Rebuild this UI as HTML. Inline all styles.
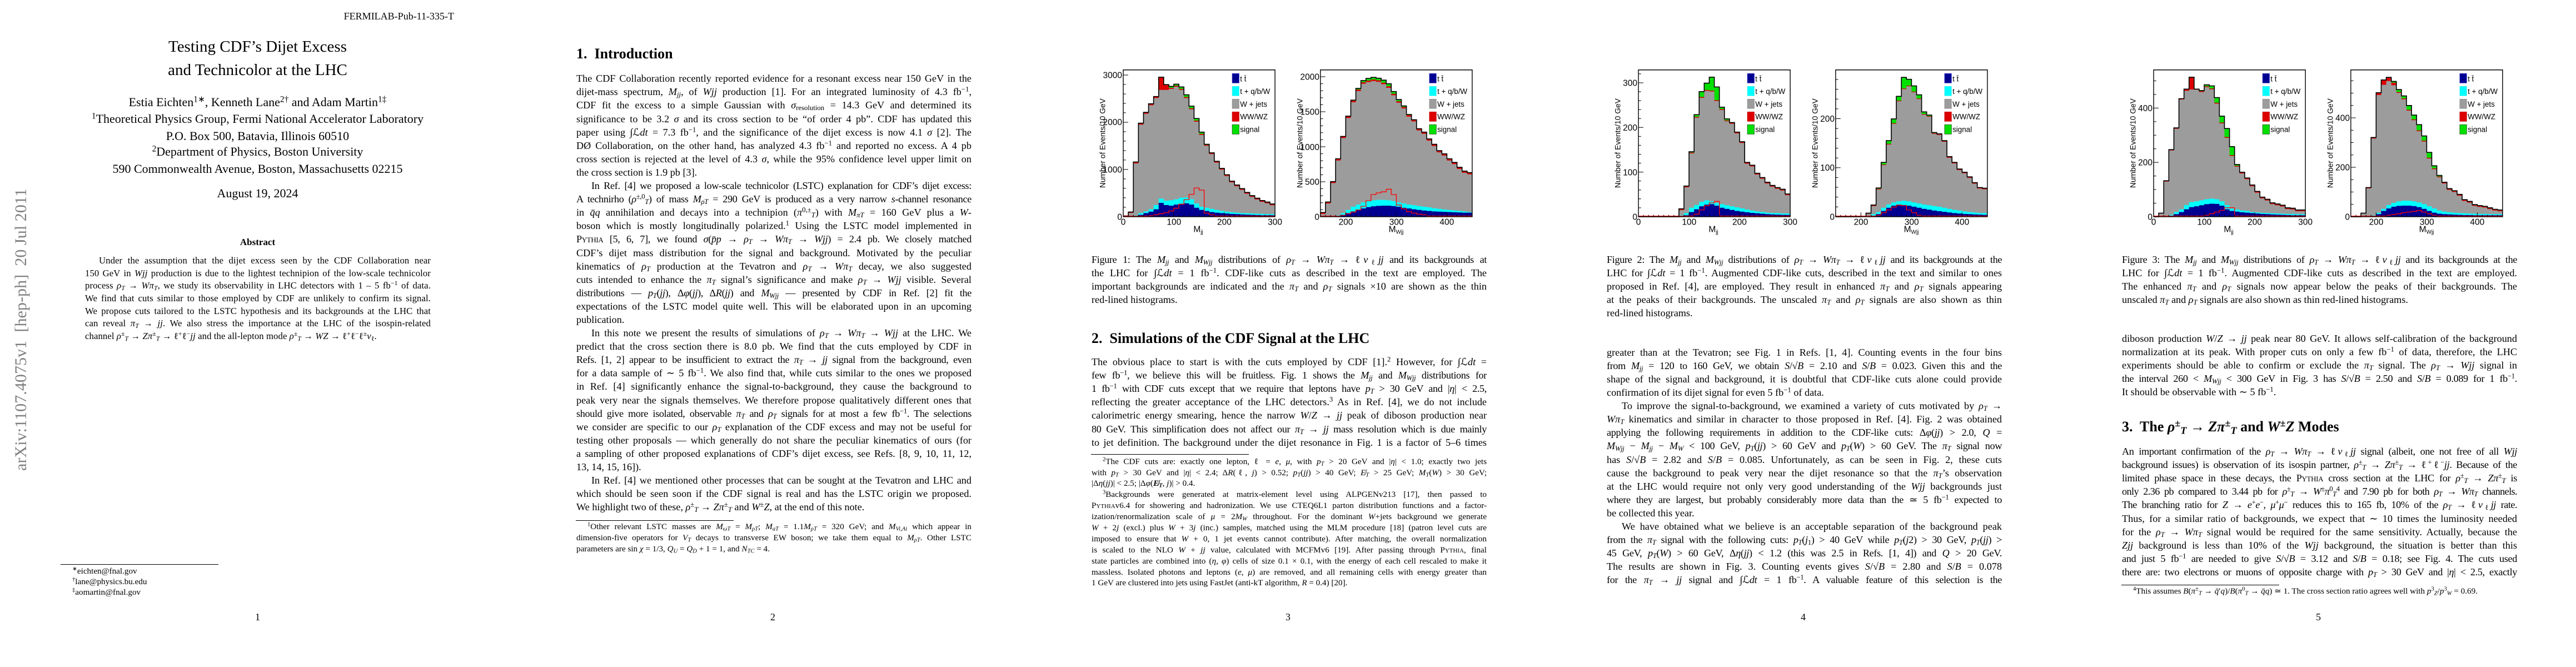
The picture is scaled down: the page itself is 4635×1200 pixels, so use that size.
<!DOCTYPE html>
<html><head><meta charset="utf-8">
<style>
body{margin:0}
#w{position:relative;width:4635px;height:1200px;background:#fff;overflow:hidden;font-family:"Liberation Serif",serif;color:#000}
.pg{position:absolute;top:0;width:927px;height:1200px}
.c{position:absolute;left:0;width:927px;text-align:center;white-space:nowrap}
.b{position:absolute;left:110px;width:711px;font-size:18.2px;line-height:24.1px;letter-spacing:0}
.b>div{height:24.1px;text-align:justify;text-align-last:justify;white-space:normal}
.b>div.e{text-align-last:left}
.b>div.i{text-indent:27px}
.b>div.t{letter-spacing:-.35px}
.ab{position:absolute;left:153px;width:622px;font-size:16.7px;line-height:22.7px;letter-spacing:.1px;top:458px}
.ab>div{height:22.7px;text-align:justify;text-align-last:justify}
.ab>div.e{text-align-last:left;white-space:nowrap}
.ab>div.i{text-indent:25px}
.f{position:absolute;left:110px;width:711px;font-size:15.15px;line-height:19.9px;letter-spacing:0}
.f>div{height:19.9px;text-align:justify;text-align-last:justify}
.f>div.e{text-align-last:left}
.f>div.i{text-indent:20px}
sub,sup{font-size:70%;line-height:0}
sub{vertical-align:-.25em}
sup{vertical-align:.5em}
.h{position:absolute;left:110px;font-size:26px;font-weight:bold;line-height:31px;white-space:nowrap}
.rule{position:absolute;left:109px;width:284px;height:0;border-top:1px solid #000}
.pn{position:absolute;left:0;width:927px;text-align:center;font-size:18px;line-height:22px;top:1099px}
.sc{font-variant:small-caps}
svg.fig{position:absolute;left:0;top:0}
svg.fig text{font-family:"Liberation Sans",Arial,sans-serif}
</style></head>
<body><div id="w">

<!-- ================= PAGE 1 ================= -->
<div class="pg" style="left:0">
<svg style="position:absolute;left:0;top:0" width="80" height="1200"><text transform="translate(47,593) rotate(-90)" text-anchor="middle" font-family="Liberation Serif, serif" font-size="30" fill="#808080" textLength="508" lengthAdjust="spacingAndGlyphs" style="white-space:pre">arXiv:1107.4075v1  [hep-ph]  20 Jul 2011</text></svg>
<div style="position:absolute;left:0;width:817px;top:18px;text-align:right;font-size:18px;line-height:22px">FERMILAB-Pub-11-335-T</div>
<div class="c" style="top:67px;font-size:29px;line-height:35px">Testing CDF’s Dijet Excess</div>
<div class="c" style="top:109px;font-size:29px;line-height:35px">and Technicolor at the LHC</div>
<div class="c" style="top:171px;font-size:22px;line-height:26px">Estia Eichten<sup>1∗</sup>, Kenneth Lane<sup>2†</sup> and Adam Martin<sup>1‡</sup></div>
<div class="c" style="top:201px;font-size:22px;line-height:26px"><sup>1</sup>Theoretical Physics Group, Fermi National Accelerator Laboratory</div>
<div class="c" style="top:231.5px;font-size:22px;line-height:26px">P.O. Box 500, Batavia, Illinois 60510</div>
<div class="c" style="top:260px;font-size:22px;line-height:26px"><sup>2</sup>Department of Physics, Boston University</div>
<div class="c" style="top:291px;font-size:22px;line-height:26px">590 Commonwealth Avenue, Boston, Massachusetts 02215</div>
<div class="c" style="top:335px;font-size:22px;line-height:26px">August 19, 2024</div>
<div class="c" style="top:426px;font-size:17px;line-height:20px;font-weight:bold">Abstract</div>
<div class="ab">
<div class="i">Under the assumption that the dijet excess seen by the CDF Collaboration near</div>
<div>150 GeV in <i>Wjj</i> production is due to the lightest technipion of the low-scale technicolor</div>
<div>process <i>ρ<sub>T</sub></i> → <i>Wπ<sub>T</sub></i>, we study its observability in LHC detectors with 1 – 5 fb<sup>−1</sup> of data.</div>
<div>We find that cuts similar to those employed by CDF are unlikely to confirm its signal.</div>
<div>We propose cuts tailored to the LSTC hypothesis and its backgrounds at the LHC that</div>
<div>can reveal <i>π<sub>T</sub></i> → <i>jj</i>. We also stress the importance at the LHC of the isospin-related</div>
<div class="e">channel <i>ρ</i><sup>±</sup><sub><i>T</i></sub> → <i>Zπ</i><sup>±</sup><sub><i>T</i></sub> → ℓ<sup>+</sup>ℓ<sup>−</sup><i>jj</i> and the all-lepton mode <i>ρ</i><sup>±</sup><sub><i>T</i></sub> → <i>WZ</i> → ℓ<sup>+</sup>ℓ<sup>−</sup>ℓ<sup>±</sup><i>ν</i><sub>ℓ</sub>.</div>
</div>
<div class="rule" style="top:1015px"></div>
<div style="position:absolute;left:130px;top:1018px;font-size:15.15px;line-height:19.2px">
<div><sup>∗</sup>eichten@fnal.gov</div>
<div><sup>†</sup>lane@physics.bu.edu</div>
<div><sup>‡</sup>aomartin@fnal.gov</div>
</div>
<div class="pn">1</div>
</div>

<!-- ================= PAGE 2 ================= -->
<div class="pg" style="left:927px">
<div class="h" style="top:81px">1.&nbsp; Introduction</div>
<div class="b" style="top:129.3px">
<div>The CDF Collaboration recently reported evidence for a resonant excess near 150 GeV in the</div>
<div>dijet-mass spectrum, <i>M<sub>jj</sub></i>, of <i>Wjj</i> production [1]. For an integrated luminosity of 4.3 fb<sup>−1</sup>,</div>
<div>CDF fit the excess to a simple Gaussian with <i>σ</i><sub>resolution</sub> = 14.3 GeV and determined its</div>
<div>significance to be 3.2 <i>σ</i> and its cross section to be “of order 4 pb”. CDF has updated this</div>
<div>paper using ∫ℒ<i>dt</i> = 7.3 fb<sup>−1</sup>, and the significance of the dijet excess is now 4.1 <i>σ</i> [2]. The</div>
<div>DØ Collaboration, on the other hand, has analyzed 4.3 fb<sup>−1</sup> and reported no excess. A 4 pb</div>
<div>cross section is rejected at the level of 4.3 <i>σ</i>, while the 95% confidence level upper limit on</div>
<div class="e">the cross section is 1.9 pb [3].</div>
<div class="i t">In Ref. [4] we proposed a low-scale technicolor (LSTC) explanation for CDF’s dijet excess:</div>
<div class="t">A technirho (<i>ρ</i><sup>±,0</sup><sub><i>T</i></sub>) of mass <i>M<sub>ρT</sub></i> = 290 GeV is produced as a very narrow <i>s</i>-channel resonance</div>
<div>in <i>q̄q</i> annihilation and decays into a technipion (<i>π</i><sup>0,±</sup><sub><i>T</i></sub>) with <i>M<sub>πT</sub></i> = 160 GeV plus a <i>W</i>-</div>
<div>boson which is mostly longitudinally polarized.<sup>1</sup> Using the LSTC model implemented in</div>
<div class="t"><span class="sc">Pythia</span> [5, 6, 7], we found <i>σ</i>(<i>p̄p</i> → <i>ρ<sub>T</sub></i> → <i>Wπ<sub>T</sub></i> → <i>Wjj</i>) = 2.4 pb. We closely matched</div>
<div>CDF’s dijet mass distribution for the signal and background. Motivated by the peculiar</div>
<div>kinematics of <i>ρ<sub>T</sub></i> production at the Tevatron and <i>ρ<sub>T</sub></i> → <i>Wπ<sub>T</sub></i> decay, we also suggested</div>
<div>cuts intended to enhance the <i>π<sub>T</sub></i> signal’s significance and make <i>ρ<sub>T</sub></i> → <i>Wjj</i> visible. Several</div>
<div class="t">distributions — <i>p<sub>T</sub></i>(<i>jj</i>), Δ<i>φ</i>(<i>jj</i>), Δ<i>R</i>(<i>jj</i>) and <i>M<sub>Wjj</sub></i> — presented by CDF in Ref. [2] fit the</div>
<div>expectations of the LSTC model quite well. This will be elaborated upon in an upcoming</div>
<div class="e">publication.</div>
<div class="i">In this note we present the results of simulations of <i>ρ<sub>T</sub></i> → <i>Wπ<sub>T</sub></i> → <i>Wjj</i> at the LHC. We</div>
<div>predict that the cross section there is 8.0 pb. We find that the cuts employed by CDF in</div>
<div class="t">Refs. [1, 2] appear to be insufficient to extract the <i>π<sub>T</sub></i> → <i>jj</i> signal from the background, even</div>
<div>for a data sample of ∼ 5 fb<sup>−1</sup>. We also find that, while cuts similar to the ones we proposed</div>
<div>in Ref. [4] significantly enhance the signal-to-background, they cause the background to</div>
<div>peak very near the signals themselves. We therefore propose qualitatively different ones that</div>
<div class="t">should give more isolated, observable <i>π<sub>T</sub></i> and <i>ρ<sub>T</sub></i> signals for at most a few fb<sup>−1</sup>. The selections</div>
<div>we consider are specific to our <i>ρ<sub>T</sub></i> explanation of the CDF excess and may not be useful for</div>
<div>testing other proposals — which generally do not share the peculiar kinematics of ours (for</div>
<div>a sampling of other proposed explanations of CDF’s dijet excess, see Refs. [8, 9, 10, 11, 12,</div>
<div class="e">13, 14, 15, 16]).</div>
<div class="i">In Ref. [4] we mentioned other processes that can be sought at the Tevatron and LHC and</div>
<div>which should be seen soon if the CDF signal is real and has the LSTC origin we proposed.</div>
<div class="e">We highlight two of these, <i>ρ</i><sup>±</sup><sub><i>T</i></sub> → <i>Zπ</i><sup>±</sup><sub><i>T</i></sub> and <i>W</i><sup>±</sup><i>Z</i>, at the end of this note.</div>
</div>
<div class="rule" style="top:935.5px"></div>
<div class="f" style="top:938px">
<div class="i"><sup>1</sup>Other relevant LSTC masses are <i>M<sub>ωT</sub></i> = <i>M<sub>ρT</sub></i>; <i>M<sub>aT</sub></i> = 1.1<i>M<sub>ρT</sub></i> = 320 GeV; and <i>M<sub>Vi,Ai</sub></i> which appear in</div>
<div>dimension-five operators for <i>V<sub>T</sub></i> decays to transverse EW boson; we take them equal to <i>M<sub>ρT</sub></i>. Other LSTC</div>
<div class="e">parameters are sin <i>χ</i> = 1/3, <i>Q<sub>U</sub></i> = <i>Q<sub>D</sub></i> + 1 = 1, and <i>N<sub>TC</sub></i> = 4.</div>
</div>
<div class="pn">2</div>
</div>

<!-- ================= PAGE 3 ================= -->
<div class="pg" style="left:1854px">
<svg class="fig" width="927" height="430" viewBox="0 0 927 430">
<g transform="scale(0.59233 0.38339)">
 <g transform="translate(282 0) scale(15.3667 1)">
  <path fill="#00e000" d="M0 1017V1013H1V995H2V760H3V578H4V527H5V487H6V453H7V362H8V397H9V405H10V395H11V408H12V445H13V498H14V556H15V620H16V677H17V717H18V757H19V790H20V820H21V850H22V868H23V885H24V903H25V918H26V930H27V941H28V948H29V957H30V1017Z"/>
  <path fill="#dd0000" d="M0 1017V1013H1V995H2V762H3V580H4V529H5V489H6V455H7V362H8V397H9V412H10V402H11V417H12V455H13V508H14V566H15V628H16V680H17V719H18V759H19V792H20V822H21V852H22V870H23V887H24V905H25V920H26V932H27V943H28V950H29V959H30V1017Z"/>
  <path fill="#9c9c9c" d="M0 1017V1015H1V999H2V767H3V585H4V534H5V494H6V460H7V422H8V422H9V417H10V407H11V422H12V460H13V513H14V571H15V633H16V684H17V723H18V763H19V796H20V826H21V856H22V874H23V891H24V909H25V924H26V936H27V947H28V954H29V963H30V1017Z"/>
  <path fill="#00ffff" d="M0 1017H2V1010H3V1000H4V992H5V982H6V962H7V932H8V942H9V940H10V935H11V928H12V927H13V935H14V955H15V970H16V975H17V980H18V985H19V990H20V993H21V996H22V998H23V1000H24V1001H25V1002H26V1003H27V1004H28V1005H30V1017Z"/>
  <path fill="#000090" d="M0 1017H2V1013H3V1008H4V1000H5V993H6V982H7V952H8V962H9V965H10V960H11V957H12V954H13V960H14V975H15V985H16V990H17V995H18V998H19V1000H20V1002H21V1004H22V1005H23V1006H24V1007H25V1008H26V1009H27V1010H30V1017Z"/>
  <path fill="none" stroke="#000" stroke-width="1.6" vector-effect="non-scaling-stroke" d="M0 1013H1V995H2V760H3V578H4V527H5V487H6V453H7V362H8V397H9V405H10V395H11V408H12V445H13V498H14V556H15V620H16V677H17V717H18V757H19V790H20V820H21V850H22V868H23V885H24V903H25V918H26V930H27V941H28V948H29V957H30"/>
  <path fill="none" stroke="#ff0000" stroke-width="1.3" vector-effect="non-scaling-stroke" d="M0 1014H5V1012H6V1008H7V1003H8V998H9V990H10V977H11V958H12V937H13V912H14V882H15V892H16V1000H17V1008H18V1014H30"/>
  <path fill="none" stroke="#000" stroke-width="1" vector-effect="non-scaling-stroke" d="M0 1017V997M10 1017V997M20 1017V997M30 1017V997M1 1017V1008M2 1017V1008M3 1017V1008M4 1017V1008M5 1017V1008M6 1017V1008M7 1017V1008M8 1017V1008M9 1017V1008M11 1017V1008M12 1017V1008M13 1017V1008M14 1017V1008M15 1017V1008M16 1017V1008M17 1017V1008M18 1017V1008M19 1017V1008M21 1017V1008M22 1017V1008M23 1017V1008M24 1017V1008M25 1017V1008M26 1017V1008M27 1017V1008M28 1017V1008M29 1017V1008"/>
 </g>
 <g transform="translate(881 0) scale(15.3667 1)">
  <path fill="#00e000" d="M0 1017V997H1V948H2V852H3V745H4V640H5V545H6V470H7V415H8V378H9V368H10V363H11V367H12V376H13V393H14V430H15V467H16V497H17V537H18V562H19V604H20V620H21V652H22V677H23V707H24V722H25V745H26V762H27V785H28V803H29V810H30V1017Z"/>
  <path fill="#dd0000" d="M0 1017V997H1V948H2V852H3V746H4V641H5V547H6V473H7V420H8V386H9V378H10V373H11V377H12V388H13V405H14V440H15V475H16V502H17V540H18V563H19V605H20V621H21V653H22V678H23V708H24V723H25V746H26V763H27V786H28V804H29V811H30V1017Z"/>
  <path fill="#9c9c9c" d="M0 1017V1004H1V955H2V859H3V753H4V648H5V554H6V480H7V427H8V393H9V385H10V380H11V384H12V395H13V412H14V447H15V482H16V509H17V547H18V570H19V612H20V628H21V660H22V685H23V715H24V730H25V753H26V770H27V793H28V811H29V818H30V1017Z"/>
  <path fill="#00ffff" d="M0 1017H3V1010H4V1000H5V985H6V970H7V960H8V950H9V943H10V940H11V938H13V940H14V944H15V950H16V955H17V960H18V963H19V967H20V970H21V973H22V977H23V980H24V983H25V985H26V988H27V990H28V992H29V995H30V1017Z"/>
  <path fill="#000090" d="M0 1017H3V1013H4V1008H5V1000H6V992H7V985H8V978H9V972H10V968H11V966H12V965H14V967H15V970H16V975H17V978H18V982H19V985H20V988H21V990H22V992H23V993H24V994H25V995H26V996H27V997H28V998H30V1017Z"/>
  <path fill="none" stroke="#000" stroke-width="1.6" vector-effect="non-scaling-stroke" d="M0 997H1V948H2V852H3V745H4V640H5V545H6V470H7V415H8V378H9V368H10V363H11V367H12V376H13V393H14V430H15V467H16V497H17V537H18V562H19V604H20V620H21V652H22V677H23V707H24V722H25V745H26V762H27V785H28V803H29V810H30"/>
  <path fill="none" stroke="#ff0000" stroke-width="1.3" vector-effect="non-scaling-stroke" d="M0 1014H4V1010H5V1003H6V995H7V985H8V968H9V942H10V913H11V905H12V900H13V888H14V913H15V962H16V980H17V993H18V1000H19V1005H20V1008H21V1014H30"/>
  <path fill="none" stroke="#000" stroke-width="1" vector-effect="non-scaling-stroke" d="M5 1017V997M15 1017V997M25 1017V997M1 1017V1008M2 1017V1008M3 1017V1008M4 1017V1008M6 1017V1008M7 1017V1008M8 1017V1008M9 1017V1008M10 1017V1008M11 1017V1008M12 1017V1008M13 1017V1008M14 1017V1008M16 1017V1008M17 1017V1008M18 1017V1008M19 1017V1008M20 1017V1008M21 1017V1008M22 1017V1008M23 1017V1008M24 1017V1008M26 1017V1008M27 1017V1008M28 1017V1008M29 1017V1008"/>
 </g>
 <path fill="none" stroke="#000" stroke-width="1" vector-effect="non-scaling-stroke" d="M282 1017h15M282 972.7h8M282 928.3h8M282 884h8M282 839.7h8M282 795.3h15M282 751h8M282 706.7h8M282 662.3h8M282 618h8M282 573.7h15M282 529.3h8M282 485h8M282 440.7h8M282 396.3h8M282 352h15M881 1017h15M881 984.2h8M881 951.3h8M881 918.5h8M881 885.6h8M881 852.8h15M881 819.9h8M881 787.1h8M881 754.2h8M881 721.4h8M881 688.5h15M881 655.7h8M881 622.8h8M881 590h8M881 557.1h8M881 524.3h15M881 491.4h8M881 458.6h8M881 425.7h8M881 392.9h8M881 360h15"/>
 <rect x="282" y="328" width="461" height="689" fill="none" stroke="#000" stroke-width="1.4" vector-effect="non-scaling-stroke"/>
 <rect x="881" y="328" width="461" height="689" fill="none" stroke="#000" stroke-width="1.4" vector-effect="non-scaling-stroke"/>
</g>
<g font-size="15.5" text-anchor="end">
 <text x="165" y="140.4">3000</text><text x="165" y="225.2">2000</text><text x="165" y="310.3">1000</text><text x="165" y="395.4">0</text>
 <text x="520" y="143.5">2000</text><text x="520" y="206.4">1500</text><text x="520" y="270">1000</text><text x="520" y="332.5">500</text><text x="520" y="395.4">0</text>
</g>
<g font-size="15.5" text-anchor="middle">
 <text x="167" y="404.5">0</text><text x="258.3" y="404.5">100</text><text x="348.9" y="404.5">200</text><text x="440.1" y="404.5">300</text>
 <text x="567.5" y="404.5">200</text><text x="658.7" y="404.5">300</text><text x="749.3" y="404.5">400</text>
 <text x="302" y="417.5">M<tspan font-size="10" dy="3">jj</tspan></text>
 <text x="658" y="417.5">M<tspan font-size="10" dy="3">Wjj</tspan></text>
</g>
<g font-size="13.8" text-anchor="middle">
 <text transform="translate(134.5,257.6) rotate(-90)" textLength="161" lengthAdjust="spacingAndGlyphs">Number of Events/10 GeV</text>
 <text transform="translate(489.5,257.6) rotate(-90)" textLength="161" lengthAdjust="spacingAndGlyphs">Number of Events/10 GeV</text>
</g>
<g stroke-width=".7">
 <rect x="363.1" y="132.3" width="12.4" height="17" fill="#000090" stroke="#3030d0"/><rect x="363.1" y="155.3" width="12.4" height="17" fill="#00ffff" stroke="#40e8e8"/><rect x="363.1" y="178.3" width="12.4" height="17" fill="#9c9c9c" stroke="#909090"/><rect x="363.1" y="201.3" width="12.4" height="17" fill="#dd0000" stroke="#c00000"/><rect x="363.1" y="224.3" width="12.4" height="17" fill="#00e000" stroke="#104010"/>
 <rect x="717.9" y="132.3" width="12.4" height="17" fill="#000090" stroke="#3030d0"/><rect x="717.9" y="155.3" width="12.4" height="17" fill="#00ffff" stroke="#40e8e8"/><rect x="717.9" y="178.3" width="12.4" height="17" fill="#9c9c9c" stroke="#909090"/><rect x="717.9" y="201.3" width="12.4" height="17" fill="#dd0000" stroke="#c00000"/><rect x="717.9" y="224.3" width="12.4" height="17" fill="#00e000" stroke="#104010"/>
</g>
<g font-size="13.4">
 <text x="377.3" y="146.7">t t&#772;</text><text x="377.3" y="168.8">t + q/b/W</text><text x="377.3" y="191.8">W + jets</text><text x="377.3" y="214.5">WW/WZ</text><text x="377.3" y="237.5">signal</text>
 <text x="732.1" y="146.7">t t&#772;</text><text x="732.1" y="168.8">t + q/b/W</text><text x="732.1" y="191.8">W + jets</text><text x="732.1" y="214.5">WW/WZ</text><text x="732.1" y="237.5">signal</text>
</g>
</svg>
<div class="b" style="top:455px">
<div class="t">Figure 1: The <i>M<sub>jj</sub></i> and <i>M<sub>Wjj</sub></i> distributions of <i>ρ<sub>T</sub></i> → <i>Wπ<sub>T</sub></i> → ℓ<i>ν</i><sub>ℓ</sub><i>jj</i> and its backgrounds at</div>
<div>the LHC for ∫ℒ<i>dt</i> = 1 fb<sup>−1</sup>. CDF-like cuts as described in the text are employed. The</div>
<div>important backgrounds are indicated and the <i>π<sub>T</sub></i> and <i>ρ<sub>T</sub></i> signals ×10 are shown as the thin</div>
<div class="e">red-lined histograms.</div>
</div>
<div class="h" style="top:592.5px">2.&nbsp; Simulations of the CDF Signal at the LHC</div>
<div class="b" style="top:639.1px">
<div>The obvious place to start is with the cuts employed by CDF [1].<sup>2</sup> However, for ∫ℒ<i>dt</i> =</div>
<div class="t">few fb<sup>−1</sup>, we believe this will be fruitless. Fig. 1 shows the <i>M<sub>jj</sub></i> and <i>M<sub>Wjj</sub></i> distributions for</div>
<div class="t">1 fb<sup>−1</sup> with CDF cuts except that we require that leptons have <i>p<sub>T</sub></i> &gt; 30 GeV and |<i>η</i>| &lt; 2.5,</div>
<div>reflecting the greater acceptance of the LHC detectors.<sup>3</sup> As in Ref. [4], we do not include</div>
<div>calorimetric energy smearing, hence the narrow <i>W</i>/<i>Z</i> → <i>jj</i> peak of diboson production near</div>
<div class="t">80 GeV. This simplification does not affect our <i>π<sub>T</sub></i> → <i>jj</i> mass resolution which is due mainly</div>
<div>to jet definition. The background under the dijet resonance in Fig. 1 is a factor of 5–6 times</div>
</div>
<div class="rule" style="top:817.4px"></div>
<div class="f" style="top:820.7px">
<div class="i"><sup>2</sup>The CDF cuts are: exactly one lepton, ℓ = <i>e</i>, <i>μ</i>, with <i>p<sub>T</sub></i> &gt; 20 GeV and |<i>η</i>| &lt; 1.0; exactly two jets</div>
<div>with <i>p<sub>T</sub></i> &gt; 30 GeV and |<i>η</i>| &lt; 2.4; Δ<i>R</i>(ℓ, <i>j</i>) &gt; 0.52; <i>p<sub>T</sub></i>(<i>jj</i>) &gt; 40 GeV; <i>E̸<sub>T</sub></i> &gt; 25 GeV; <i>M<sub>T</sub></i>(<i>W</i>) &gt; 30 GeV;</div>
<div class="e">|Δ<i>η</i>(<i>jj</i>)| &lt; 2.5; |Δ<i>φ</i>(<b><i>E̸<sub>T</sub></i></b>, <i>j</i>)| &gt; 0.4.</div>
<div class="i"><sup>3</sup>Backgrounds were generated at matrix-element level using ALPGENv213 [17], then passed to</div>
<div><span class="sc">Pythia</span>v6.4 for showering and hadronization. We use CTEQ6L1 parton distribution functions and a factor-</div>
<div>ization/renormalization scale of <i>μ</i> = 2<i>M<sub>W</sub></i> throughout. For the dominant <i>W</i>+jets background we generate</div>
<div><i>W</i> + 2<i>j</i> (excl.) plus <i>W</i> + 3<i>j</i> (inc.) samples, matched using the MLM procedure [18] (patron level cuts are</div>
<div>imposed to ensure that <i>W</i> + 0, 1 jet events cannot contribute). After matching, the overall normalization</div>
<div>is scaled to the NLO <i>W</i> + <i>jj</i> value, calculated with MCFMv6 [19]. After passing through <span class="sc">Pythia</span>, final</div>
<div>state particles are combined into (<i>η</i>, <i>φ</i>) cells of size 0.1 × 0.1, with the energy of each cell rescaled to make it</div>
<div>massless. Isolated photons and leptons (<i>e</i>, <i>μ</i>) are removed, and all remaining cells with energy greater than</div>
<div class="e">1 GeV are clustered into jets using FastJet (anti-kT algorithm, <i>R</i> = 0.4) [20].</div>
</div>
<div class="pn">3</div>
</div>

<!-- ================= PAGE 4 ================= -->
<div class="pg" style="left:2781px">
<svg class="fig" width="927" height="430" viewBox="0 0 927 430">
<g transform="scale(0.59233 0.38339)">
 <g transform="translate(282 0) scale(15.3667 1)">
  <path fill="#00e000" d="M0 1017H8V980H9V873H10V712H11V538H12V430H13V390H14V362H15V408H16V503H17V558H18V575H19V620H20V665H21V762H22V775H23V813H24V833H25V855H26V870H27V880H28V888H29V910H30V1017Z"/>
  <path fill="#dd0000" d="M0 1017H8V982H9V875H10V716H11V548H12V455H13V422H14V425H15V470H16V512H17V565H18V577H19V622H20V667H21V764H22V777H23V815H24V835H25V857H26V872H27V882H28V890H29V912H30V1017Z"/>
  <path fill="#9c9c9c" d="M0 1017H8V986H9V879H10V720H11V552H12V459H13V426H14V429H15V474H16V516H17V569H18V581H19V626H20V671H21V768H22V781H23V819H24V839H25V861H26V876H27V886H28V894H29V916H30V1017Z"/>
  <path fill="#00ffff" d="M0 1017H8V1010H9V1000H10V975H11V962H12V947H13V940H14V945H15V953H16V958H17V963H18V968H19V973H20V978H21V983H22V988H23V992H24V995H25V998H26V1000H28V1002H30V1017Z"/>
  <path fill="#000090" d="M0 1017H8V1015H9V1010H10V995H11V982H12V968H13V960H14V958H15V965H16V975H17V980H18V985H19V990H20V993H21V996H22V999H23V1001H24V1003H25V1005H26V1006H27V1007H28V1008H30V1017Z"/>
  <path fill="none" stroke="#000" stroke-width="1.6" vector-effect="non-scaling-stroke" d="M0 1017H8V980H9V873H10V712H11V538H12V430H13V390H14V362H15V408H16V503H17V558H18V575H19V620H20V665H21V762H22V775H23V813H24V833H25V855H26V870H27V880H28V888H29V910H30"/>
  <path fill="none" stroke="#ff0000" stroke-width="1.3" vector-effect="non-scaling-stroke" d="M0 1014H11V1005H12V985H13V965H14V952H15V945H16V1014H30"/>
  <path fill="none" stroke="#000" stroke-width="1" vector-effect="non-scaling-stroke" d="M0 1017V997M10 1017V997M20 1017V997M30 1017V997M1 1017V1008M2 1017V1008M3 1017V1008M4 1017V1008M5 1017V1008M6 1017V1008M7 1017V1008M8 1017V1008M9 1017V1008M11 1017V1008M12 1017V1008M13 1017V1008M14 1017V1008M15 1017V1008M16 1017V1008M17 1017V1008M18 1017V1008M19 1017V1008M21 1017V1008M22 1017V1008M23 1017V1008M24 1017V1008M25 1017V1008M26 1017V1008M27 1017V1008M28 1017V1008M29 1017V1008"/>
 </g>
 <g transform="translate(881 0) scale(15.3667 1)">
  <path fill="#00e000" d="M0 1017H5V1015H6V1000H7V962H8V882H9V762H10V660H11V558H12V452H13V363H14V372H15V403H16V445H17V525H18V540H19V622H20V628H21V660H22V735H23V762H24V793H25V808H26V830H27V857H28V880H29V883H30V1017Z"/>
  <path fill="#dd0000" d="M0 1017H5V1015H6V1000H7V964H8V886H9V772H10V675H11V578H12V472H13V415H14V402H15V430H16V462H17V535H18V545H19V625H20V630H21V662H22V737H23V764H24V795H25V810H26V832H27V859H28V882H29V885H30V1017Z"/>
  <path fill="#9c9c9c" d="M0 1017H6V1003H7V967H8V889H9V775H10V678H11V581H12V475H13V418H14V405H15V433H16V465H17V538H18V548H19V628H20V633H21V665H22V740H23V767H24V798H25V813H26V835H27V862H28V885H29V888H30V1017Z"/>
  <path fill="#00ffff" d="M0 1017H7V1005H8V995H9V975H10V960H11V950H12V945H13V942H14V945H15V950H16V955H17V960H18V963H19V967H20V970H21V975H22V980H23V985H24V988H25V992H26V995H27V997H28V1000H30V1017Z"/>
  <path fill="#000090" d="M0 1017H7V1012H8V1005H9V990H10V975H11V965H12V962H14V965H15V970H16V975H17V980H18V984H19V988H20V991H21V994H22V997H23V1000H24V1002H25V1004H26V1005H27V1006H28V1007H29V1008H30V1017Z"/>
  <path fill="none" stroke="#000" stroke-width="1.6" vector-effect="non-scaling-stroke" d="M0 1017H5V1015H6V1000H7V962H8V882H9V762H10V660H11V558H12V452H13V363H14V372H15V403H16V445H17V525H18V540H19V622H20V628H21V660H22V735H23V762H24V793H25V808H26V830H27V857H28V880H29V883H30"/>
  <path fill="none" stroke="#ff0000" stroke-width="1.3" vector-effect="non-scaling-stroke" d="M0 1014H8V1010H9V998H10V985H11V972H12V962H13V965H14V985H15V998H16V1010H17V1014H30"/>
  <path fill="none" stroke="#000" stroke-width="1" vector-effect="non-scaling-stroke" d="M5 1017V997M15 1017V997M25 1017V997M1 1017V1008M2 1017V1008M3 1017V1008M4 1017V1008M6 1017V1008M7 1017V1008M8 1017V1008M9 1017V1008M10 1017V1008M11 1017V1008M12 1017V1008M13 1017V1008M14 1017V1008M16 1017V1008M17 1017V1008M18 1017V1008M19 1017V1008M20 1017V1008M21 1017V1008M22 1017V1008M23 1017V1008M24 1017V1008M26 1017V1008M27 1017V1008M28 1017V1008M29 1017V1008"/>
 </g>
 <path fill="none" stroke="#000" stroke-width="1" vector-effect="non-scaling-stroke" d="M282 1017h15M282 975.1h8M282 933.2h8M282 891.3h8M282 849.4h8M282 807.5h15M282 765.6h8M282 723.7h8M282 681.8h8M282 639.9h8M282 598h15M282 556.1h8M282 514.2h8M282 472.3h8M282 430.4h8M282 388.5h15M282 346.6h8M881 1017h15M881 971h8M881 925h8M881 879h8M881 833h8M881 787h15M881 741h8M881 695h8M881 649h8M881 603h8M881 557h15M881 511h8M881 465h8M881 419h8M881 373h8"/>
 <rect x="282" y="328" width="461" height="689" fill="none" stroke="#000" stroke-width="1.4" vector-effect="non-scaling-stroke"/>
 <rect x="881" y="328" width="461" height="689" fill="none" stroke="#000" stroke-width="1.4" vector-effect="non-scaling-stroke"/>
</g>
<g font-size="15.5" text-anchor="end">
 <text x="165" y="154.6">300</text><text x="165" y="234.8">200</text><text x="165" y="315.3">100</text><text x="165" y="395.4">0</text>
 <text x="520" y="219">200</text><text x="520" y="307.2">100</text><text x="520" y="395.4">0</text>
</g>
<g font-size="15.5" text-anchor="middle">
 <text x="167" y="404.5">0</text><text x="258.3" y="404.5">100</text><text x="348.9" y="404.5">200</text><text x="440.1" y="404.5">300</text>
 <text x="567.5" y="404.5">200</text><text x="658.7" y="404.5">300</text><text x="749.3" y="404.5">400</text>
 <text x="302" y="417.5">M<tspan font-size="10" dy="3">jj</tspan></text>
 <text x="658" y="417.5">M<tspan font-size="10" dy="3">Wjj</tspan></text>
</g>
<g font-size="13.8" text-anchor="middle">
 <text transform="translate(134.5,257.6) rotate(-90)" textLength="161" lengthAdjust="spacingAndGlyphs">Number of Events/10 GeV</text>
 <text transform="translate(489.5,257.6) rotate(-90)" textLength="161" lengthAdjust="spacingAndGlyphs">Number of Events/10 GeV</text>
</g>
<g stroke-width=".7">
 <rect x="363.1" y="132.3" width="12.4" height="17" fill="#000090" stroke="#3030d0"/><rect x="363.1" y="155.3" width="12.4" height="17" fill="#00ffff" stroke="#40e8e8"/><rect x="363.1" y="178.3" width="12.4" height="17" fill="#9c9c9c" stroke="#909090"/><rect x="363.1" y="201.3" width="12.4" height="17" fill="#dd0000" stroke="#c00000"/><rect x="363.1" y="224.3" width="12.4" height="17" fill="#00e000" stroke="#104010"/>
 <rect x="717.9" y="132.3" width="12.4" height="17" fill="#000090" stroke="#3030d0"/><rect x="717.9" y="155.3" width="12.4" height="17" fill="#00ffff" stroke="#40e8e8"/><rect x="717.9" y="178.3" width="12.4" height="17" fill="#9c9c9c" stroke="#909090"/><rect x="717.9" y="201.3" width="12.4" height="17" fill="#dd0000" stroke="#c00000"/><rect x="717.9" y="224.3" width="12.4" height="17" fill="#00e000" stroke="#104010"/>
</g>
<g font-size="13.4">
 <text x="377.3" y="146.7">t t&#772;</text><text x="377.3" y="168.8">t + q/b/W</text><text x="377.3" y="191.8">W + jets</text><text x="377.3" y="214.5">WW/WZ</text><text x="377.3" y="237.5">signal</text>
 <text x="732.1" y="146.7">t t&#772;</text><text x="732.1" y="168.8">t + q/b/W</text><text x="732.1" y="191.8">W + jets</text><text x="732.1" y="214.5">WW/WZ</text><text x="732.1" y="237.5">signal</text>
</g>
</svg>
<div class="b" style="top:455px">
<div class="t">Figure 2: The <i>M<sub>jj</sub></i> and <i>M<sub>Wjj</sub></i> distributions of <i>ρ<sub>T</sub></i> → <i>Wπ<sub>T</sub></i> → ℓ<i>ν</i><sub>ℓ</sub><i>jj</i> and its backgrounds at the</div>
<div>LHC for ∫ℒ<i>dt</i> = 1 fb<sup>−1</sup>. Augmented CDF-like cuts, described in the text and similar to ones</div>
<div>proposed in Ref. [4], are employed. They result in enhanced <i>π<sub>T</sub></i> and <i>ρ<sub>T</sub></i> signals appearing</div>
<div>at the peaks of their backgrounds. The unscaled <i>π<sub>T</sub></i> and <i>ρ<sub>T</sub></i> signals are also shown as thin</div>
<div class="e">red-lined histograms.</div>
</div>
<div class="b" style="top:621.8px">
<div>greater than at the Tevatron; see Fig. 1 in Refs. [1, 4]. Counting events in the four bins</div>
<div class="t">from <i>M<sub>jj</sub></i> = 120 to 160 GeV, we obtain <i>S</i>/√<i>B</i> = 2.10 and <i>S</i>/<i>B</i> = 0.023. Given this and the</div>
<div>shape of the signal and background, it is doubtful that CDF-like cuts alone could provide</div>
<div class="e">confirmation of its dijet signal for even 5 fb<sup>−1</sup> of data.</div>
<div class="i">To improve the signal-to-background, we examined a variety of cuts motivated by <i>ρ<sub>T</sub></i> →</div>
<div><i>Wπ<sub>T</sub></i> kinematics and similar in character to those proposed in Ref. [4]. Fig. 2 was obtained</div>
<div class="t">applying the following requirements in addition to the CDF-like cuts: Δ<i>φ</i>(<i>jj</i>) &gt; 2.0, <i>Q</i> =</div>
<div class="t"><i>M<sub>Wjj</sub></i> − <i>M<sub>jj</sub></i> − <i>M<sub>W</sub></i> &lt; 100 GeV, <i>p<sub>T</sub></i>(<i>jj</i>) &gt; 60 GeV and <i>p<sub>T</sub></i>(<i>W</i>) &gt; 60 GeV. The <i>π<sub>T</sub></i> signal now</div>
<div>has <i>S</i>/√<i>B</i> = 2.82 and <i>S</i>/<i>B</i> = 0.085. Unfortunately, as can be seen in Fig. 2, these cuts</div>
<div>cause the background to peak very near the dijet resonance so that the <i>π<sub>T</sub></i>’s observation</div>
<div>at the LHC would require not only very good understanding of the <i>Wjj</i> backgrounds just</div>
<div class="t">where they are largest, but probably considerably more data than the ≃ 5 fb<sup>−1</sup> expected to</div>
<div class="e">be collected this year.</div>
<div class="i">We have obtained what we believe is an acceptable separation of the background peak</div>
<div class="t">from the <i>π<sub>T</sub></i> signal with the following cuts: <i>p<sub>T</sub></i>(<i>j</i><sub>1</sub>) &gt; 40 GeV while <i>p<sub>T</sub></i>(<i>j</i>2) &gt; 30 GeV, <i>p<sub>T</sub></i>(<i>jj</i>) &gt;</div>
<div class="t">45 GeV, <i>p<sub>T</sub></i>(<i>W</i>) &gt; 60 GeV, Δ<i>η</i>(<i>jj</i>) &lt; 1.2 (this was 2.5 in Refs. [1, 4]) and <i>Q</i> &gt; 20 GeV.</div>
<div>The results are shown in Fig. 3. Counting events gives <i>S</i>/√<i>B</i> = 2.80 and <i>S</i>/<i>B</i> = 0.078</div>
<div class="t">for the <i>π<sub>T</sub></i> → <i>jj</i> signal and ∫ℒ<i>dt</i> = 1 fb<sup>−1</sup>. A valuable feature of this selection is the</div>
</div>
<div class="pn">4</div>
</div>

<!-- ================= PAGE 5 ================= -->
<div class="pg" style="left:3708px">
<svg class="fig" width="927" height="430" viewBox="0 0 927 430">
<g transform="scale(0.59233 0.38339)">
 <g transform="translate(282 0) scale(15.3667 1)">
  <path fill="#00e000" d="M0 1017H1V1000H2V848H3V702H4V600H5V463H6V418H7V362H8V418H9V425H10V398H11V403H12V458H13V545H14V603H15V688H16V772H17V808H18V835H19V868H20V898H21V925H22V935H23V952H24V957H25V963H26V975H27V977H28V985H30V1017Z"/>
  <path fill="#dd0000" d="M0 1017H1V1000H2V848H3V702H4V600H5V463H6V418H7V362H8V418H9V428H10V405H11V415H12V482H13V575H14V643H15V728H16V778H17V810H18V837H19V870H20V900H21V927H22V937H23V954H24V959H25V965H26V977H27V979H28V987H30V1017Z"/>
  <path fill="#9c9c9c" d="M0 1017H1V1002H2V852H3V706H4V604H5V467H6V426H7V420H8V421H9V432H10V409H11V419H12V486H13V579H14V647H15V732H16V782H17V814H18V841H19V874H20V904H21V931H22V941H23V958H24V963H25V969H26V981H27V983H28V991H30V1017Z"/>
  <path fill="#00ffff" d="M0 1017H3V1008H4V995H5V982H6V962H7V948H8V945H9V940H10V935H11V932H12V935H13V945H14V962H15V978H16V983H17V988H18V990H19V995H20V997H21V999H22V1000H23V1001H24V1002H25V1003H26V1004H28V1005H30V1017Z"/>
  <path fill="#000090" d="M0 1017H3V1012H4V1005H5V995H6V982H7V972H8V968H9V963H10V958H11V956H12V957H13V965H14V982H15V990H16V993H17V996H18V998H19V1000H20V1002H21V1004H22V1005H23V1006H24V1007H25V1008H26V1009H27V1010H30V1017Z"/>
  <path fill="none" stroke="#000" stroke-width="1.6" vector-effect="non-scaling-stroke" d="M0 1017H1V1000H2V848H3V702H4V600H5V463H6V418H7V362H8V418H9V425H10V398H11V403H12V458H13V545H14V603H15V688H16V772H17V808H18V835H19V868H20V898H21V925H22V935H23V952H24V957H25V963H26V975H27V977H28V985H30"/>
  <path fill="none" stroke="#ff0000" stroke-width="1.3" vector-effect="non-scaling-stroke" d="M0 1014H10V1010H11V1003H12V995H13V987H14V975H16V1014H30"/>
  <path fill="none" stroke="#000" stroke-width="1" vector-effect="non-scaling-stroke" d="M0 1017V997M10 1017V997M20 1017V997M30 1017V997M1 1017V1008M2 1017V1008M3 1017V1008M4 1017V1008M5 1017V1008M6 1017V1008M7 1017V1008M8 1017V1008M9 1017V1008M11 1017V1008M12 1017V1008M13 1017V1008M14 1017V1008M15 1017V1008M16 1017V1008M17 1017V1008M18 1017V1008M19 1017V1008M21 1017V1008M22 1017V1008M23 1017V1008M24 1017V1008M25 1017V1008M26 1017V1008M27 1017V1008M28 1017V1008M29 1017V1008"/>
 </g>
 <g transform="translate(881 0) scale(15.3667 1)">
  <path fill="#00e000" d="M0 1017H2V1000H3V880H4V645H5V435H6V375H7V363H8V382H9V420H10V450H11V495H12V540H13V585H14V638H15V715H16V778H17V823H18V855H19V885H20V895H21V912H22V937H23V945H24V960H25V965H26V968H27V975H28V982H29V985H30V1017Z"/>
  <path fill="#dd0000" d="M0 1017H2V1000H3V880H4V645H5V436H6V377H7V363H8V388H9V432H10V462H11V515H12V560H13V612H14V660H15V740H16V790H17V828H18V857H19V887H20V897H21V914H22V939H23V947H24V962H25V967H26V970H27V977H28V984H29V987H30V1017Z"/>
  <path fill="#9c9c9c" d="M0 1017H2V1002H3V884H4V650H5V446H6V398H7V380H8V400H9V436H10V466H11V519H12V564H13V616H14V664H15V744H16V794H17V832H18V861H19V891H20V901H21V918H22V943H23V951H24V966H25V971H26V974H27V981H28V988H29V991H30V1017Z"/>
  <path fill="#00ffff" d="M0 1017H4V1010H5V998H6V980H7V962H8V952H9V945H10V942H12V945H13V950H14V958H15V968H16V978H17V988H18V993H19V996H20V998H21V1000H22V1001H23V1002H24V1003H25V1004H27V1005H30V1017Z"/>
  <path fill="#000090" d="M0 1017H4V1013H5V1005H6V990H7V978H8V970H9V966H10V965H12V967H13V972H14V980H15V990H16V998H17V1003H18V1005H19V1006H20V1007H21V1008H22V1009H24V1010H30V1017Z"/>
  <path fill="none" stroke="#000" stroke-width="1.6" vector-effect="non-scaling-stroke" d="M0 1017H2V1000H3V880H4V645H5V435H6V375H7V363H8V382H9V420H10V450H11V495H12V540H13V585H14V638H15V715H16V778H17V823H18V855H19V885H20V895H21V912H22V937H23V945H24V960H25V965H26V968H27V975H28V982H29V985H30"/>
  <path fill="none" stroke="#ff0000" stroke-width="1.3" vector-effect="non-scaling-stroke" d="M0 1014H7V1010H8V1007H9V1003H10V998H11V995H12V992H13V988H14V995H15V1003H16V1010H17V1014H30"/>
  <path fill="none" stroke="#000" stroke-width="1" vector-effect="non-scaling-stroke" d="M5 1017V997M15 1017V997M25 1017V997M1 1017V1008M2 1017V1008M3 1017V1008M4 1017V1008M6 1017V1008M7 1017V1008M8 1017V1008M9 1017V1008M10 1017V1008M11 1017V1008M12 1017V1008M13 1017V1008M14 1017V1008M16 1017V1008M17 1017V1008M18 1017V1008M19 1017V1008M20 1017V1008M21 1017V1008M22 1017V1008M23 1017V1008M24 1017V1008M26 1017V1008M27 1017V1008M28 1017V1008M29 1017V1008"/>
 </g>
 <path fill="none" stroke="#000" stroke-width="1" vector-effect="non-scaling-stroke" d="M282 1017h15M282 953.3h8M282 889.5h8M282 825.8h8M282 762h15M282 698.3h8M282 634.5h8M282 570.8h8M282 507h15M282 443.3h8M282 379.5h8M881 1017h15M881 959h8M881 901h8M881 843h8M881 785h15M881 727h8M881 669h8M881 611h8M881 553h15M881 495h8M881 437h8M881 379h8"/>
 <rect x="282" y="328" width="461" height="689" fill="none" stroke="#000" stroke-width="1.4" vector-effect="non-scaling-stroke"/>
 <rect x="881" y="328" width="461" height="689" fill="none" stroke="#000" stroke-width="1.4" vector-effect="non-scaling-stroke"/>
</g>
<g font-size="15.5" text-anchor="end">
 <text x="165" y="199.9">400</text><text x="165" y="297.6">200</text><text x="165" y="395.4">0</text>
 <text x="520" y="217.5">400</text><text x="520" y="306.5">200</text><text x="520" y="395.4">0</text>
</g>
<g font-size="15.5" text-anchor="middle">
 <text x="167" y="404.5">0</text><text x="258.3" y="404.5">100</text><text x="348.9" y="404.5">200</text><text x="440.1" y="404.5">300</text>
 <text x="567.5" y="404.5">200</text><text x="658.7" y="404.5">300</text><text x="749.3" y="404.5">400</text>
 <text x="302" y="417.5">M<tspan font-size="10" dy="3">jj</tspan></text>
 <text x="658" y="417.5">M<tspan font-size="10" dy="3">Wjj</tspan></text>
</g>
<g font-size="13.8" text-anchor="middle">
 <text transform="translate(134.5,257.6) rotate(-90)" textLength="161" lengthAdjust="spacingAndGlyphs">Number of Events/10 GeV</text>
 <text transform="translate(489.5,257.6) rotate(-90)" textLength="161" lengthAdjust="spacingAndGlyphs">Number of Events/10 GeV</text>
</g>
<g stroke-width=".7">
 <rect x="363.1" y="132.3" width="12.4" height="17" fill="#000090" stroke="#3030d0"/><rect x="363.1" y="155.3" width="12.4" height="17" fill="#00ffff" stroke="#40e8e8"/><rect x="363.1" y="178.3" width="12.4" height="17" fill="#9c9c9c" stroke="#909090"/><rect x="363.1" y="201.3" width="12.4" height="17" fill="#dd0000" stroke="#c00000"/><rect x="363.1" y="224.3" width="12.4" height="17" fill="#00e000" stroke="#104010"/>
 <rect x="717.9" y="132.3" width="12.4" height="17" fill="#000090" stroke="#3030d0"/><rect x="717.9" y="155.3" width="12.4" height="17" fill="#00ffff" stroke="#40e8e8"/><rect x="717.9" y="178.3" width="12.4" height="17" fill="#9c9c9c" stroke="#909090"/><rect x="717.9" y="201.3" width="12.4" height="17" fill="#dd0000" stroke="#c00000"/><rect x="717.9" y="224.3" width="12.4" height="17" fill="#00e000" stroke="#104010"/>
</g>
<g font-size="13.4">
 <text x="377.3" y="146.7">t t&#772;</text><text x="377.3" y="168.8">t + q/b/W</text><text x="377.3" y="191.8">W + jets</text><text x="377.3" y="214.5">WW/WZ</text><text x="377.3" y="237.5">signal</text>
 <text x="732.1" y="146.7">t t&#772;</text><text x="732.1" y="168.8">t + q/b/W</text><text x="732.1" y="191.8">W + jets</text><text x="732.1" y="214.5">WW/WZ</text><text x="732.1" y="237.5">signal</text>
</g>
</svg>
<div class="b" style="top:455px">
<div class="t">Figure 3: The <i>M<sub>jj</sub></i> and <i>M<sub>Wjj</sub></i> distributions of <i>ρ<sub>T</sub></i> → <i>Wπ<sub>T</sub></i> → ℓ<i>ν</i><sub>ℓ</sub><i>jj</i> and its backgrounds at the</div>
<div>LHC for ∫ℒ<i>dt</i> = 1 fb<sup>−1</sup>. Augmented CDF-like cuts as described in the text are employed.</div>
<div>The enhanced <i>π<sub>T</sub></i> and <i>ρ<sub>T</sub></i> signals now appear below the peaks of their backgrounds. The</div>
<div class="e">unscaled <i>π<sub>T</sub></i> and <i>ρ<sub>T</sub></i> signals are also shown as thin red-lined histograms.</div>
</div>
<div class="b" style="top:596.9px">
<div>diboson production <i>W</i>/<i>Z</i> → <i>jj</i> peak near 80 GeV. It allows self-calibration of the background</div>
<div>normalization at its peak. With proper cuts on only a few fb<sup>−1</sup> of data, therefore, the LHC</div>
<div>experiments should be able to confirm or exclude the <i>π<sub>T</sub></i> signal. The <i>ρ<sub>T</sub></i> → <i>Wjj</i> signal in</div>
<div class="t">the interval 260 &lt; <i>M<sub>Wjj</sub></i> &lt; 300 GeV in Fig. 3 has <i>S</i>/√<i>B</i> = 2.50 and <i>S</i>/<i>B</i> = 0.089 for 1 fb<sup>−1</sup>.</div>
<div class="e">It should be observable with ∼ 5 fb<sup>−1</sup>.</div>
</div>
<div class="h" style="top:751.6px">3.&nbsp; The <i>ρ</i><sup>±</sup><sub><i>T</i></sub> → <i>Zπ</i><sup>±</sup><sub><i>T</i></sub> and <i>W</i><sup>±</sup><i>Z</i> Modes</div>
<div class="b" style="top:800.1px">
<div class="t">An important confirmation of the <i>ρ<sub>T</sub></i> → <i>Wπ<sub>T</sub></i> → ℓ<i>ν</i><sub>ℓ</sub><i>jj</i> signal (albeit, one not free of all <i>Wjj</i></div>
<div class="t">background issues) is observation of its isospin partner, <i>ρ</i><sup>±</sup><sub><i>T</i></sub> → <i>Zπ</i><sup>±</sup><sub><i>T</i></sub> → ℓ<sup>+</sup>ℓ<sup>−</sup><i>jj</i>. Because of the</div>
<div class="t">limited phase space in these decays, the <span class="sc">Pythia</span> cross section at the LHC for <i>ρ</i><sup>±</sup><sub><i>T</i></sub> → <i>Zπ</i><sup>±</sup><sub><i>T</i></sub> is</div>
<div class="t" style="letter-spacing:-.6px">only 2.36 pb compared to 3.44 pb for <i>ρ</i><sup>±</sup><sub><i>T</i></sub> → <i>W</i><sup>±</sup><i>π</i><sup>0</sup><sub><i>T</i></sub><sup>4</sup> and 7.90 pb for both <i>ρ<sub>T</sub></i> → <i>Wπ<sub>T</sub></i> channels.</div>
<div class="t" style="letter-spacing:-.5px">The branching ratio for <i>Z</i> → <i>e</i><sup>+</sup><i>e</i><sup>−</sup>, <i>μ</i><sup>+</sup><i>μ</i><sup>−</sup> reduces this to 165 fb, 10% of the <i>ρ<sub>T</sub></i> → ℓ<i>ν</i><sub>ℓ</sub><i>jj</i> rate.</div>
<div>Thus, for a similar ratio of backgrounds, we expect that ∼ 10 times the luminosity needed</div>
<div>for the <i>ρ<sub>T</sub></i> → <i>Wπ<sub>T</sub></i> signal would be required for the same sensitivity. Actually, because the</div>
<div><i>Zjj</i> background is less than 10% of the <i>Wjj</i> background, the situation is better than this</div>
<div class="t">and just 5 fb<sup>−1</sup> are needed to give <i>S</i>/√<i>B</i> = 3.12 and <i>S</i>/<i>B</i> = 0.18; see Fig. 4. The cuts used</div>
<div class="t">there are: two electrons or muons of opposite charge with <i>p<sub>T</sub></i> &gt; 30 GeV and |<i>η</i>| &lt; 2.5, exactly</div>
</div>
<div class="rule" style="top:1051.6px"></div>
<div style="position:absolute;left:130px;top:1053.8px;font-size:15.15px;line-height:19.9px;white-space:nowrap"><sup>4</sup>This assumes <i>B</i>(<i>π</i><sup>±</sup><sub><i>T</i></sub> → <i>q̄</i>′<i>q</i>)/<i>B</i>(<i>π</i><sup>0</sup><sub><i>T</i></sub> → <i>q̄q</i>) ≃ 1. The cross section ratio agrees well with <i>p</i><sup>3</sup><sub><i>Z</i></sub>/<i>p</i><sup>3</sup><sub><i>W</i></sub> = 0.69.</div>
<div class="pn">5</div>
</div>

</div></body></html>
